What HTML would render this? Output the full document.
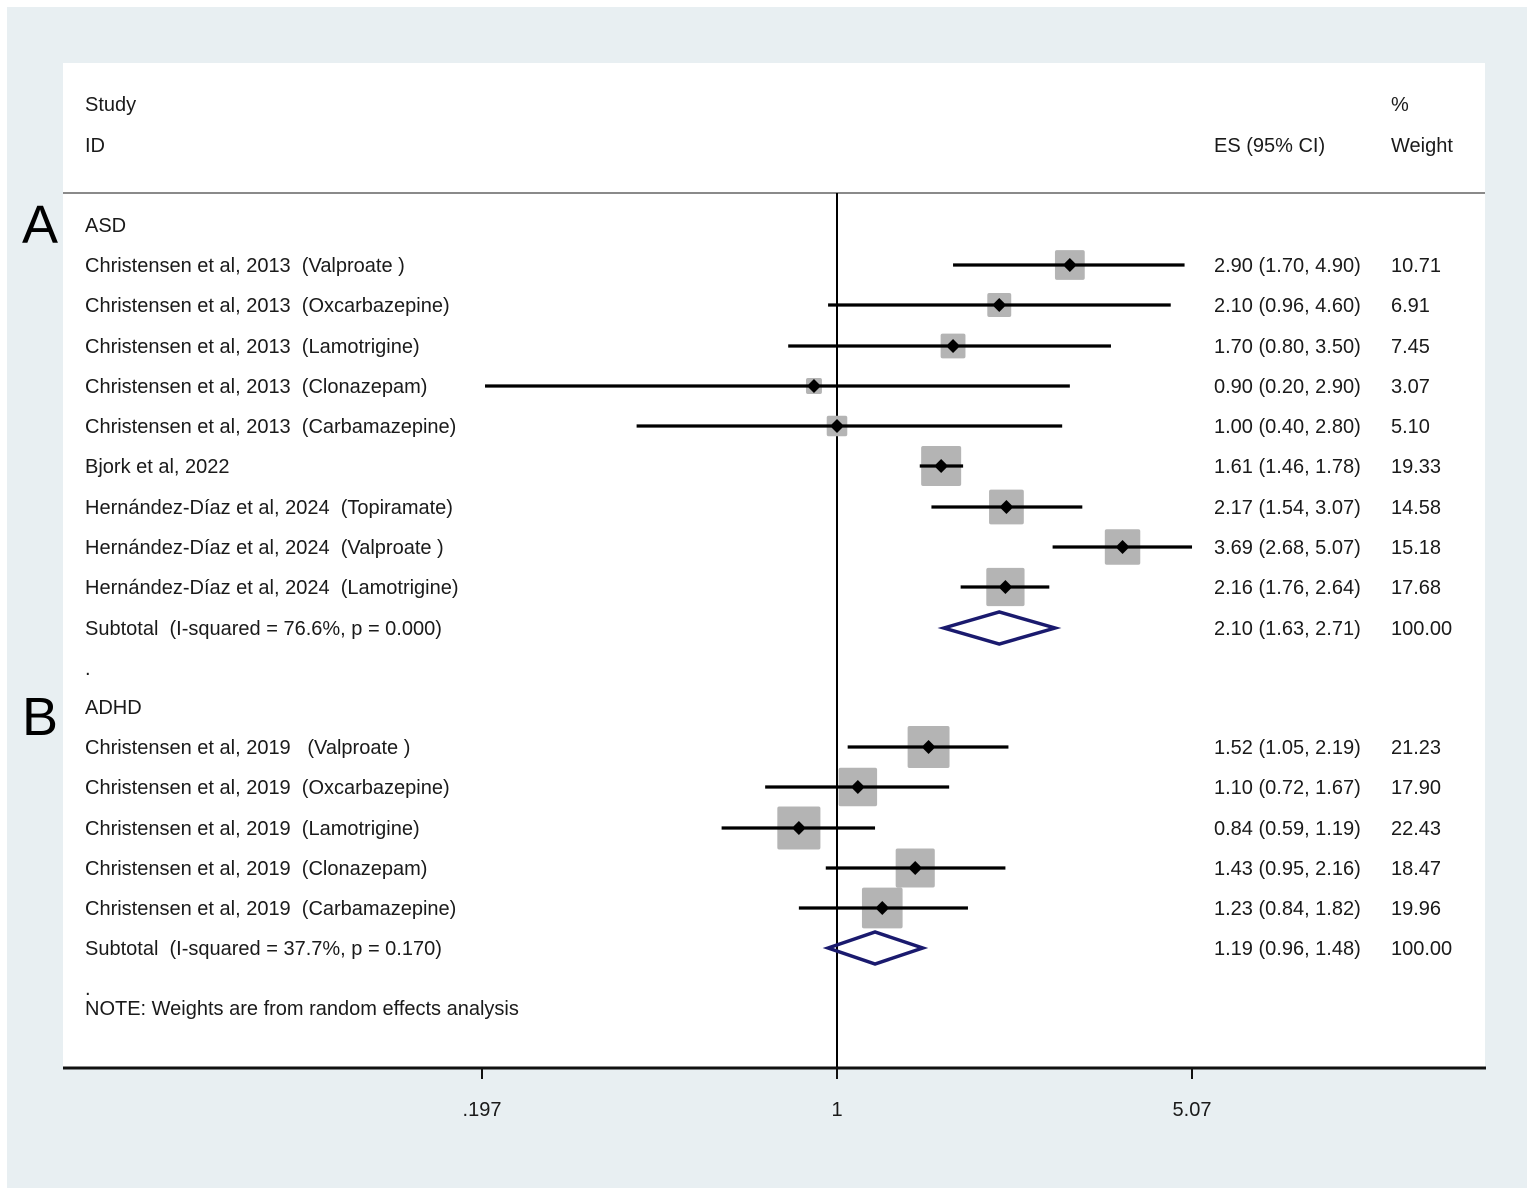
<!DOCTYPE html>
<html><head><meta charset="utf-8"><style>
html,body{margin:0;padding:0;background:#fff;}
svg{display:block;}
text{font-family:"Liberation Sans",Arial,sans-serif;font-size:20px;fill:#1a1a1a;white-space:pre;}
</style></head><body>
<svg id="s" width="1535" height="1196" xmlns="http://www.w3.org/2000/svg" xml:space="preserve">
<rect x="0" y="0" width="1535" height="1196" fill="#fff"/>
<rect x="7" y="7" width="1520" height="1181" fill="#e8eff2"/>
<rect x="63" y="63" width="1422" height="1005" fill="#fff"/>
<line x1="63" y1="193" x2="1485" y2="193" stroke="#8a8a8a" stroke-width="2"/>
<line x1="837" y1="193" x2="837" y2="1068" stroke="#000" stroke-width="2"/>
<line x1="63" y1="1068" x2="1486" y2="1068" stroke="#111" stroke-width="3"/>
<line x1="482" y1="1068" x2="482" y2="1079" stroke="#111" stroke-width="2"/>
<line x1="837" y1="1068" x2="837" y2="1079" stroke="#111" stroke-width="2"/>
<line x1="1192" y1="1068" x2="1192" y2="1079" stroke="#111" stroke-width="2"/>
<text x="482" y="1116" text-anchor="middle">.197</text>
<text x="837" y="1116" text-anchor="middle">1</text>
<text x="1192" y="1116" text-anchor="middle">5.07</text>
<text x="22" y="243" style="font-size:54px;fill:#000">A</text>
<text x="22" y="735" style="font-size:54px;fill:#000">B</text>
<text x="85" y="111">Study</text>
<text x="85" y="152">ID</text>
<text x="1391" y="111">%</text>
<text x="1214" y="152">ES (95% CI)</text>
<text x="1391" y="152">Weight</text>
<text x="85" y="232">ASD</text>
<text x="85" y="272">Christensen et al, 2013  (Valproate )</text>
<text x="85" y="312">Christensen et al, 2013  (Oxcarbazepine)</text>
<text x="85" y="353">Christensen et al, 2013  (Lamotrigine)</text>
<text x="85" y="393">Christensen et al, 2013  (Clonazepam)</text>
<text x="85" y="433">Christensen et al, 2013  (Carbamazepine)</text>
<text x="85" y="473">Bjork et al, 2022</text>
<text x="85" y="514">Hernández-Díaz et al, 2024  (Topiramate)</text>
<text x="85" y="554">Hernández-Díaz et al, 2024  (Valproate )</text>
<text x="85" y="594">Hernández-Díaz et al, 2024  (Lamotrigine)</text>
<text x="85" y="635">Subtotal  (I-squared = 76.6%, p = 0.000)</text>
<text x="85" y="675">.</text>
<text x="85" y="714">ADHD</text>
<text x="85" y="754">Christensen et al, 2019   (Valproate )</text>
<text x="85" y="794">Christensen et al, 2019  (Oxcarbazepine)</text>
<text x="85" y="835">Christensen et al, 2019  (Lamotrigine)</text>
<text x="85" y="875">Christensen et al, 2019  (Clonazepam)</text>
<text x="85" y="915">Christensen et al, 2019  (Carbamazepine)</text>
<text x="85" y="955">Subtotal  (I-squared = 37.7%, p = 0.170)</text>
<text x="85" y="995">.</text>
<text x="85" y="1015">NOTE: Weights are from random effects analysis</text>
<text x="1214" y="272">2.90 (1.70, 4.90)</text><text x="1391" y="272">10.71</text>
<text x="1214" y="312">2.10 (0.96, 4.60)</text><text x="1391" y="312">6.91</text>
<text x="1214" y="353">1.70 (0.80, 3.50)</text><text x="1391" y="353">7.45</text>
<text x="1214" y="393">0.90 (0.20, 2.90)</text><text x="1391" y="393">3.07</text>
<text x="1214" y="433">1.00 (0.40, 2.80)</text><text x="1391" y="433">5.10</text>
<text x="1214" y="473">1.61 (1.46, 1.78)</text><text x="1391" y="473">19.33</text>
<text x="1214" y="514">2.17 (1.54, 3.07)</text><text x="1391" y="514">14.58</text>
<text x="1214" y="554">3.69 (2.68, 5.07)</text><text x="1391" y="554">15.18</text>
<text x="1214" y="594">2.16 (1.76, 2.64)</text><text x="1391" y="594">17.68</text>
<text x="1214" y="635">2.10 (1.63, 2.71)</text><text x="1391" y="635">100.00</text>
<text x="1214" y="754">1.52 (1.05, 2.19)</text><text x="1391" y="754">21.23</text>
<text x="1214" y="794">1.10 (0.72, 1.67)</text><text x="1391" y="794">17.90</text>
<text x="1214" y="835">0.84 (0.59, 1.19)</text><text x="1391" y="835">22.43</text>
<text x="1214" y="875">1.43 (0.95, 2.16)</text><text x="1391" y="875">18.47</text>
<text x="1214" y="915">1.23 (0.84, 1.82)</text><text x="1391" y="915">19.96</text>
<text x="1214" y="955">1.19 (0.96, 1.48)</text><text x="1391" y="955">100.00</text>
<g id="g"></g>
</svg>
<script>
var X=function(v){return 837+218.7*Math.log(v);};
var rows=[[265,2.90,1.70,4.90,10.71],[305,2.10,0.96,4.60,6.91],[346,1.70,0.80,3.50,7.45],[386,0.90,0.20,2.90,3.07],[426,1.00,0.40,2.80,5.10],[466,1.61,1.46,1.78,19.33],[507,2.17,1.54,3.07,14.58],[547,3.69,2.68,5.07,15.18],[587,2.16,1.76,2.64,17.68],
[747,1.52,1.05,2.19,21.23],[787,1.10,0.72,1.67,17.90],[828,0.84,0.59,1.19,22.43],[868,1.43,0.95,2.16,18.47],[908,1.23,0.84,1.82,19.96]];
var h='';
rows.forEach(function(r){var y=r[0],c=X(r[1]),s=9.1*Math.sqrt(r[4]);
h+='<rect x="'+(c-s/2)+'" y="'+(y-s/2)+'" width="'+s+'" height="'+s+'" rx="2" fill="#b4b4b4"/>';
h+='<line x1="'+X(r[2])+'" y1="'+y+'" x2="'+X(r[3])+'" y2="'+y+'" stroke="#000" stroke-width="3.2"/>';
h+='<polygon points="'+(c-7)+','+y+' '+c+','+(y-7)+' '+(c+7)+','+y+' '+c+','+(y+7)+'" fill="#000"/>';});
[[628,2.10,1.63,2.71],[948,1.19,0.96,1.48]].forEach(function(d){var y=d[0],c=X(d[1]);
h+='<polygon points="'+X(d[2])+','+y+' '+c+','+(y-16)+' '+X(d[3])+','+y+' '+c+','+(y+16)+'" fill="none" stroke="#1a1a6e" stroke-width="3.5"/>';});
document.getElementById('g').innerHTML=h;
</script>
</body></html>
